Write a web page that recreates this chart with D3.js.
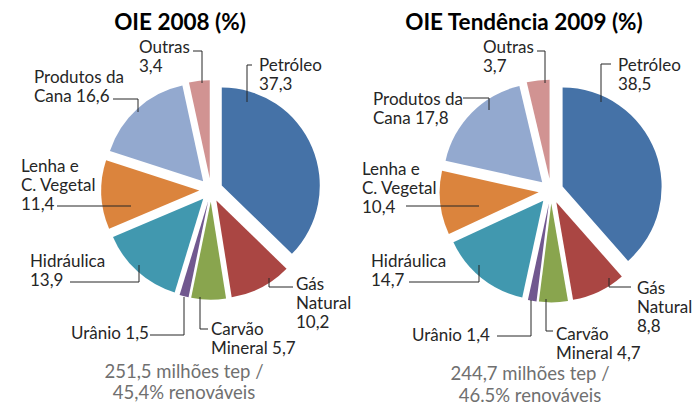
<!DOCTYPE html>
<html><head><meta charset="utf-8">
<script src="https://cdn.jsdelivr.net/npm/d3@7/dist/d3.min.js"></script>
<style>
html,body{margin:0;padding:0;background:#fff;}
svg{display:block;}
text{font-family:Lato,"Open Sans",sans-serif;}
</style></head>
<body>
<svg id="chart" width="692" height="406"></svg>
<script>
// ---- data ----
const categories = ["Petróleo","Gás Natural","Carvão Mineral","Urânio","Hidráulica","Lenha e C. Vegetal","Produtos da Cana","Outras"];
const values2008 = [37.3, 10.2, 5.7, 1.5, 13.9, 11.4, 16.6, 3.4];
const values2009 = [38.5, 8.8, 4.7, 1.4, 14.7, 10.4, 17.8, 3.7];
const labels2008 = [["Petróleo","37,3"],["Gás","Natural","10,2"],["Carvão","Mineral 5,7"],["Urânio 1,5"],["Hidráulica","13,9"],["Lenha e","C. Vegetal","11,4"],["Produtos da","Cana 16,6"],["Outras","3,4"]];
const labels2009 = [["Petróleo","38,5"],["Gás","Natural","8,8"],["Carvão","Mineral 4,7"],["Urânio 1,4"],["Hidráulica","14,7"],["Lenha e","C. Vegetal","10,4"],["Produtos da","Cana 17,8"],["Outras","3,7"]];
const titles = ["OIE 2008 (%)","OIE Tendência 2009 (%)"];
const subtitles = [["251,5 milhões tep /","45,4% renováveis"],["244,7 milhões tep /","46.5% renováveis"]];

// ---- layout & style ----
const colors = ["#4572A7","#AA4643","#89A54E","#71588F","#4198AF","#DB843D","#93A9CF","#D19392"];
const color = d3.scaleOrdinal().domain(categories).range(colors);
const pies = [
  {cx:211, cy:190, r:98, explode:11.7, titleX:180, subX:184, subY:[378,399],
   labelPos:[[259,71],[296,290],[211,335],[71,339],[30,267],[21,172],[34,83],[139,53]],
   leaders:[[[252,65],[247,65],[247,102]],[[293,287],[269,287],[269,278]],[[208,329],[200,329],[200,297]],
            [[150,335],[184,335],[184,297]],[[70,282],[139,282],[139,265]],[[57,206],[131,206]],
            [[113,99],[138,99],[138,112]],[[193,51],[202,51],[202,83]]]},
  {cx:551, cy:191, r:99, explode:12.4, titleX:524, subX:530, subY:[380,402],
   labelPos:[[618,71],[637,294],[556,340],[412,341],[371,267],[362,175],[373,105],[483,53]],
   leaders:[[[611,64],[601,64],[601,102]],[[631,287],[609,287],[609,278]],[[553,331],[546,331],[546,299]],
            [[497,336],[531,336],[531,300]],[[409,282],[479,282],[479,265]],[[406,206],[479,206]],
            [[463,98],[489,98],[489,110]],[[537,51],[545,51],[545,83]]]}
];
const datasets = [values2008, values2009];
const labelSets = [labels2008, labels2009];
const lineH = 19;

const svg = d3.select("#chart");
const pieGen = d3.pie().sort(null).value(d => d.v);

pies.forEach((p, i) => {
  const data = categories.map((c, k) => ({c, v: datasets[i][k]}));
  const arcs = pieGen(data);
  const arc = d3.arc().innerRadius(0).outerRadius(p.r);
  const g = svg.append("g").attr("transform", `translate(${p.cx},${p.cy})`);
  g.selectAll("path").data(arcs).join("path")
    .attr("d", arc)
    .attr("fill", d => color(d.data.c))
    .attr("transform", d => {
      const a = (d.startAngle + d.endAngle) / 2;
      return `translate(${p.explode*Math.sin(a)},${-p.explode*Math.cos(a)})`;
    });

  // leaders
  const line = d3.line();
  svg.append("g").selectAll("path").data(p.leaders).join("path")
    .attr("d", d => line(d))
    .attr("fill","none").attr("stroke","#262626").attr("stroke-width",1);

  // labels
  const lg = svg.append("g").attr("font-size", 17).attr("fill", "#262626");
  labelSets[i].forEach((lines, k) => {
    const t = lg.append("text").attr("x", p.labelPos[k][0]).attr("y", p.labelPos[k][1]);
    lines.forEach((s, j) => t.append("tspan").attr("x", p.labelPos[k][0]).attr("y", p.labelPos[k][1] + j*lineH).text(s));
  });

  svg.append("text").attr("x", p.titleX).attr("y", 30).attr("text-anchor","middle")
    .attr("font-size", 22.5).attr("font-weight","bold").attr("fill","#000").text(titles[i]);

  subtitles[i].forEach((s, j) => {
    svg.append("text").attr("x", p.subX).attr("y", p.subY[j]).attr("text-anchor","middle")
      .attr("font-size", 18.5).attr("fill","#707070").text(s);
  });
});
</script>
</body></html>
